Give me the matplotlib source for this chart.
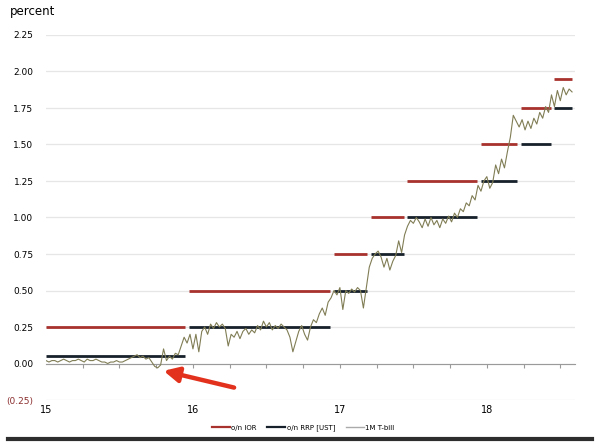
import numpy as np
import matplotlib
matplotlib.use("Agg")
import matplotlib.pyplot as plt
from matplotlib.lines import Line2D
import matplotlib.transforms as mtransforms

# policy rate steps (year fraction where each level starts)
hike_dates = [15.0, 15.97, 16.96, 17.21, 17.46, 17.96, 18.23, 18.46]
end_date = 18.58
ior_levels = [0.25, 0.50, 0.75, 1.00, 1.25, 1.50, 1.75, 1.95]
rrp_levels = [0.05, 0.25, 0.50, 0.75, 1.00, 1.25, 1.50, 1.75]

tbill_2015 = [0.02, 0.01, 0.02, 0.02, 0.01, 0.02, 0.03, 0.02, 0.01, 0.02,
              0.02, 0.03, 0.02, 0.01, 0.03, 0.02, 0.02, 0.03, 0.02, 0.01,
              0.01, 0.00, 0.01, 0.01, 0.02, 0.01, 0.01, 0.02, 0.03, 0.04,
              0.05, 0.06, 0.04, 0.05, 0.03, 0.04, 0.01, -0.02, -0.03, -0.01,
              0.10, 0.02, 0.05, 0.03, 0.07, 0.06, 0.12, 0.18, 0.14, 0.20]
tbill_2016 = [0.10, 0.20, 0.08, 0.22, 0.25, 0.20, 0.27, 0.24, 0.28, 0.25,
              0.27, 0.24, 0.12, 0.20, 0.18, 0.22, 0.17, 0.22, 0.24, 0.20,
              0.23, 0.21, 0.26, 0.23, 0.29, 0.25, 0.28, 0.23, 0.26, 0.24,
              0.27, 0.25, 0.23, 0.18, 0.08, 0.15, 0.22, 0.26, 0.20, 0.16,
              0.25, 0.30, 0.28, 0.34, 0.38, 0.33, 0.42, 0.45, 0.50, 0.47]
tbill_2017 = [0.52, 0.37, 0.50, 0.48, 0.51, 0.49, 0.52, 0.50, 0.38, 0.52,
              0.66, 0.72, 0.75, 0.77, 0.73, 0.66, 0.72, 0.64, 0.70, 0.74,
              0.84, 0.76, 0.88, 0.94, 0.98, 0.96, 1.00, 0.97, 0.93, 0.99,
              0.94, 1.00, 0.95, 0.98, 0.93, 0.99, 0.96, 1.01, 0.97, 1.03,
              1.00, 1.06, 1.04, 1.10, 1.08, 1.15, 1.12, 1.22, 1.18, 1.25]
tbill_2018 = [1.28, 1.20, 1.24, 1.36, 1.30, 1.40, 1.34, 1.45, 1.55, 1.70,
              1.66, 1.62, 1.67, 1.60, 1.66, 1.61, 1.68, 1.64, 1.72, 1.68,
              1.76, 1.72, 1.84, 1.76, 1.87, 1.80, 1.89, 1.84, 1.88, 1.86]
tbill = tbill_2015 + tbill_2016 + tbill_2017 + tbill_2018
tbill_t = 15.0 + 0.02 * np.arange(len(tbill))

year_labels = ["15", "16", "17", "18"]
year_pos = [15, 16, 17, 18]
yticks = [-0.25, 0.0, 0.25, 0.5, 0.75, 1.0, 1.25, 1.5, 1.75, 2.0, 2.25]

RED = "#a8322d"
NAVY = "#17212b"
OLIVE = "#807d55"

fig = plt.figure(figsize=(6, 4.44), dpi=100)
ax = fig.add_axes([46 / 600, 1 - 400 / 444, (575 - 46) / 600, (400 - 35) / 444])
ax.set_xlim(15, 18.6)
ax.set_ylim(-0.25, 2.25)

for y in yticks:
    ax.axhline(y, color="#e6e6e6", lw=0.9, zorder=0)

for s in ["top", "right", "left"]:
    ax.spines[s].set_visible(False)
ax.spines["bottom"].set_position(("data", 0))
ax.spines["bottom"].set_color("#9a9a9a")
ax.spines["bottom"].set_linewidth(0.8)
ax.set_xticks(np.arange(15.25, 18.6, 0.25))
ax.tick_params(axis="x", length=3, width=0.8, color="#9a9a9a", labelbottom=False)

ax.set_yticks(yticks)
ax.set_yticklabels(["(0.25)" if v < 0 else f"{v:.2f}" for v in yticks], fontsize=6.5)
ax.tick_params(axis="y", length=0, pad=9)
ax.get_yticklabels()[0].set_color("#8b2e2e")

trans = mtransforms.blended_transform_factory(ax.transData, ax.transAxes)
for xp, lab in zip(year_pos, year_labels):
    ax.text(xp, -0.015, lab, transform=trans, ha="center", va="top", fontsize=7)

gap = 0.025
nxt = hike_dates[1:] + [end_date + gap]
for i in range(len(hike_dates)):
    ax.hlines(ior_levels[i], hike_dates[i], nxt[i] - gap, color=RED, lw=2.0, zorder=3)
    ax.hlines(rrp_levels[i], hike_dates[i], nxt[i] - gap, color=NAVY, lw=2.0, zorder=3)

ax.plot(tbill_t, tbill, color=OLIVE, lw=0.8, zorder=4)

ax.annotate("", xy=(15.80, -0.05), xytext=(16.28, -0.165),
            arrowprops=dict(arrowstyle="-|>,head_length=0.9,head_width=0.45",
                            color="#e2321e", lw=3.2, shrinkA=0, shrinkB=0), zorder=5)

fig.text(10 / 600, 1 - 12 / 444, "percent", fontsize=8.5, va="center", ha="left")

handles = [Line2D([], [], color=RED, lw=1.6),
           Line2D([], [], color=NAVY, lw=1.6),
           Line2D([], [], color="#aaaaaa", lw=1.0)]
fig.legend(handles, ["o/n IOR", "o/n RRP [UST]", "1M T-bill"], loc="center",
           bbox_to_anchor=(0.505, 1 - 428 / 444), ncol=3, frameon=False, fontsize=5,
           handlelength=2.6, handletextpad=0.2, columnspacing=1.5)

fig.add_artist(Line2D([8 / 600, 592 / 600], [1 - 439 / 444] * 2, color="#2e2e2e", lw=3))

fig.savefig("out.png", dpi=100)
